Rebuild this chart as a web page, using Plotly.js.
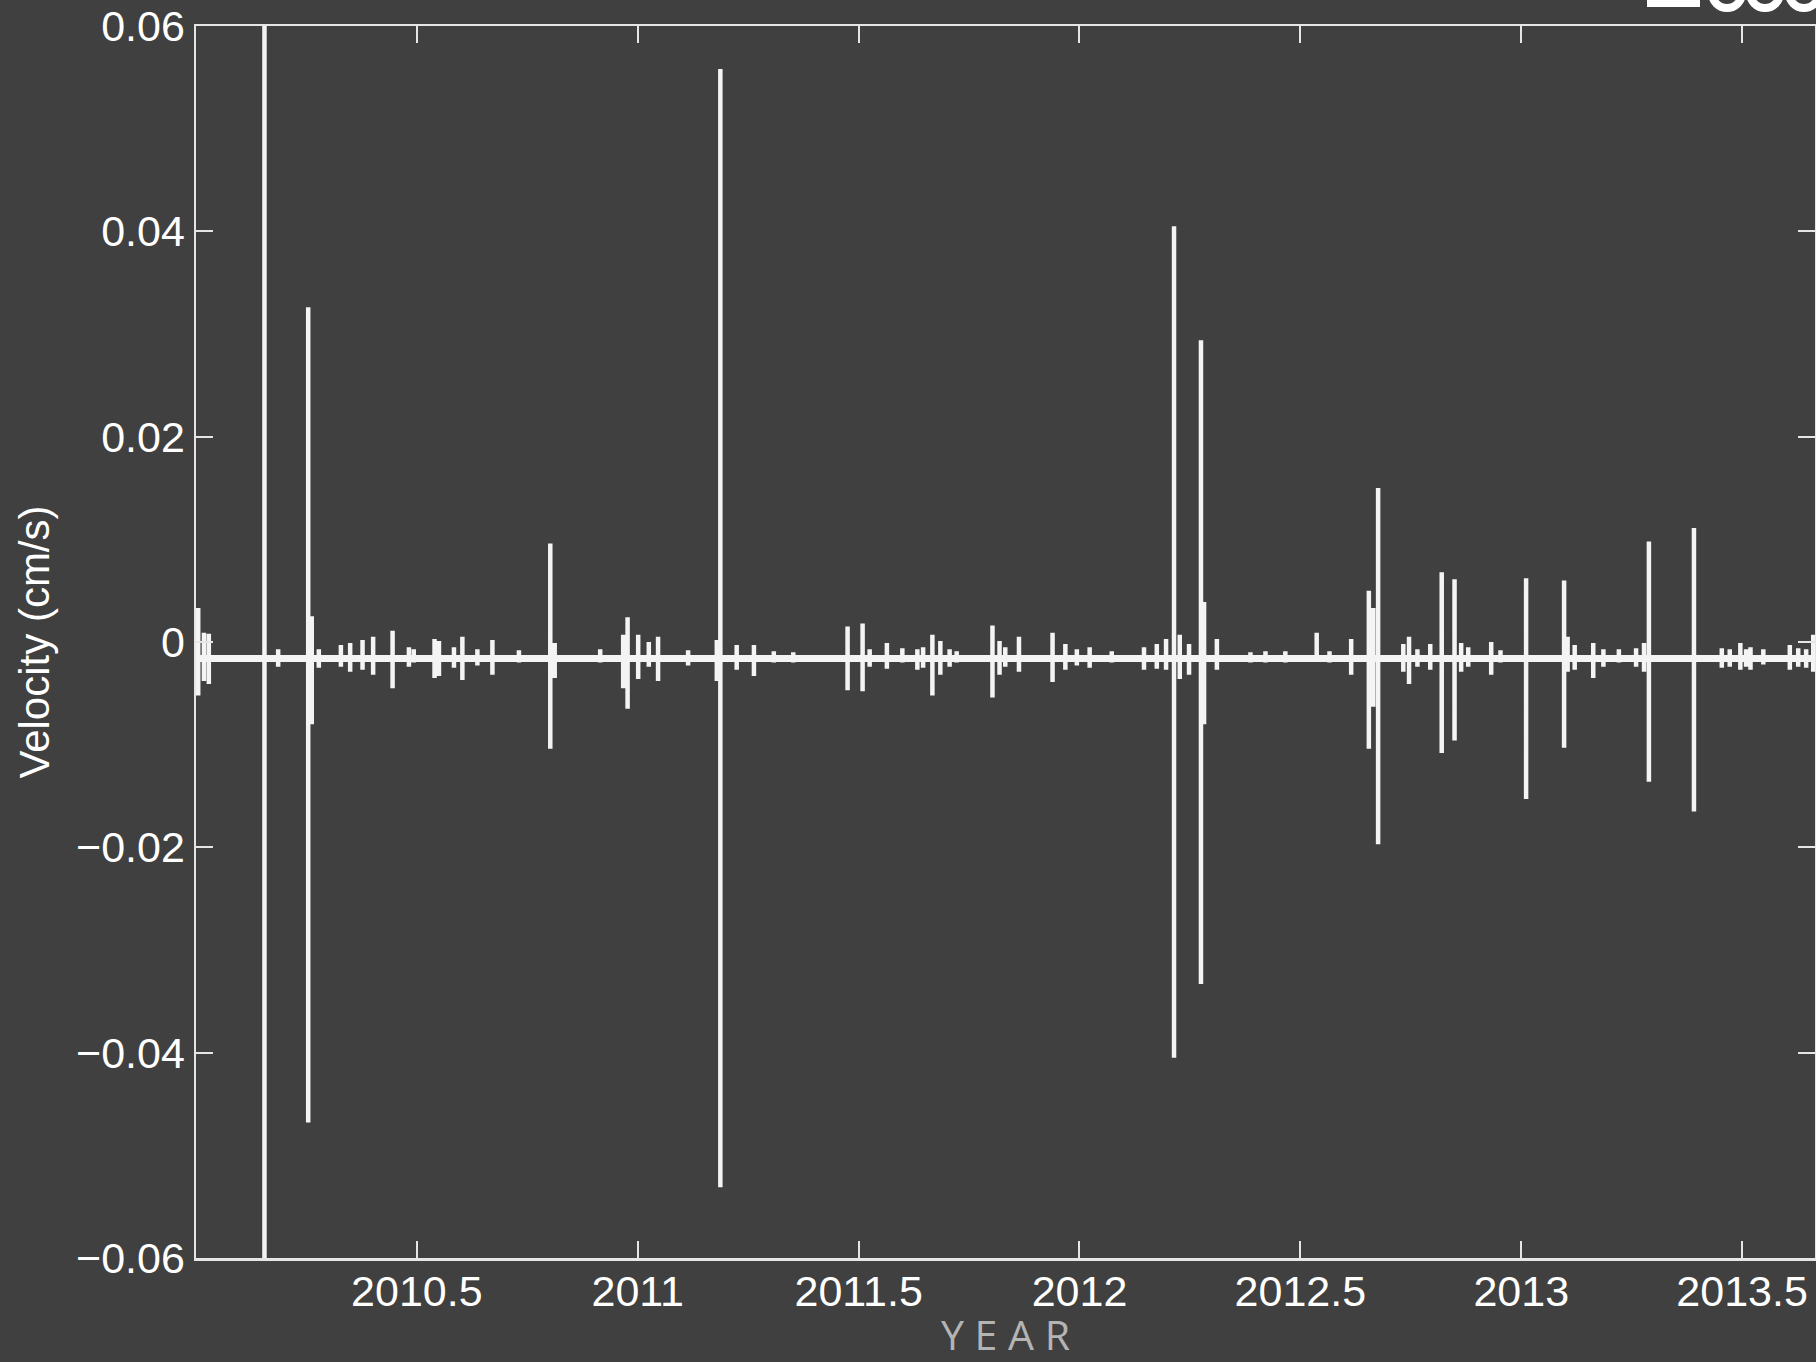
<!DOCTYPE html>
<html>
<head>
<meta charset="utf-8">
<script src="https://cdn.plot.ly/plotly-3.0.1.min.js"></script>
<style>
  html, body { margin: 0; padding: 0; background: #404040; }
  #chart { width: 1816px; height: 1362px; }
</style>
</head>
<body>
<div id="chart"></div>
<script>
// ---- data ----
const baselineVelocity = -0.0016;   // cm/s, resting level of the trace
const xStart = 2010.0;
const xEnd = 2013.665;

const spikeYear = [
  2010.005, 2010.018, 2010.029, 2010.155, 2010.186, 2010.254, 2010.262, 2010.278,
  2010.328, 2010.349, 2010.377, 2010.401, 2010.445, 2010.482, 2010.493, 2010.540,
  2010.550, 2010.584, 2010.603, 2010.637, 2010.671, 2010.731, 2010.802, 2010.812,
  2010.915, 2010.967, 2010.977, 2011.001, 2011.025, 2011.046, 2011.114, 2011.179,
  2011.187, 2011.224, 2011.263, 2011.308, 2011.352, 2011.475, 2011.509, 2011.525,
  2011.564, 2011.599, 2011.633, 2011.646, 2011.667, 2011.685, 2011.706, 2011.722,
  2011.803, 2011.819, 2011.832, 2011.863, 2011.939, 2011.968, 2011.994, 2012.023,
  2012.073, 2012.146, 2012.175, 2012.196, 2012.214, 2012.227, 2012.248, 2012.275,
  2012.282, 2012.311, 2012.387, 2012.421, 2012.466, 2012.537, 2012.566, 2012.615,
  2012.655, 2012.665, 2012.676, 2012.733, 2012.746, 2012.765, 2012.794, 2012.820,
  2012.849, 2012.864, 2012.880, 2012.932, 2012.953, 2013.011, 2013.097, 2013.105,
  2013.121, 2013.163, 2013.186, 2013.221, 2013.260, 2013.278, 2013.289, 2013.391,
  2013.454, 2013.472, 2013.496, 2013.509, 2013.519, 2013.548, 2013.608, 2013.627,
  2013.645, 2013.661
];
const spikeHigh = [
  0.0033, 0.0009, 0.0008, 0.0750, -0.0007, 0.0326, 0.0025, -0.0007,
  -0.0003, -0.0001, 0.0002, 0.0005, 0.0011, -0.0005, -0.0007, 0.0003,
  0.0001, -0.0005, 0.0005, -0.0007, 0.0002, -0.0008, 0.0096, -0.0001,
  -0.0007, 0.0007, 0.0024, 0.0007, 0.0000, 0.0005, -0.0008, 0.0002,
  0.0558, -0.0003, -0.0003, -0.0009, -0.0010, 0.0015, 0.0018, -0.0007,
  -0.0001, -0.0006, -0.0007, -0.0005, 0.0007, 0.0001, -0.0007, -0.0009,
  0.0016, 0.0001, -0.0005, 0.0005, 0.0009, -0.0002, -0.0007, -0.0005,
  -0.0009, -0.0005, -0.0002, 0.0003, 0.0405, 0.0007, -0.0002, 0.0294,
  0.0039, 0.0003, -0.0010, -0.0009, -0.0009, 0.0009, -0.0009, 0.0003,
  0.0050, 0.0033, 0.0150, -0.0002, 0.0005, -0.0007, -0.0002, 0.0068,
  0.0061, -0.0001, -0.0005, 0.0000, -0.0008, 0.0062, 0.0060, 0.0005,
  -0.0003, -0.0001, -0.0007, -0.0007, -0.0006, -0.0001, 0.0098, 0.0111,
  -0.0006, -0.0007, -0.0001, -0.0007, -0.0005, -0.0007, -0.0003, -0.0006,
  -0.0007, 0.0007
];
const spikeLow = [
  -0.0052, -0.0038, -0.0041, -0.0750, -0.0024, -0.0468, -0.0080, -0.0025,
  -0.0024, -0.0029, -0.0027, -0.0032, -0.0045, -0.0024, -0.0020, -0.0035,
  -0.0033, -0.0025, -0.0037, -0.0023, -0.0032, -0.0020, -0.0104, -0.0035,
  -0.0020, -0.0045, -0.0065, -0.0036, -0.0024, -0.0038, -0.0023, -0.0038,
  -0.0531, -0.0027, -0.0033, -0.0020, -0.0020, -0.0047, -0.0048, -0.0024,
  -0.0026, -0.0020, -0.0027, -0.0025, -0.0052, -0.0032, -0.0024, -0.0020,
  -0.0054, -0.0032, -0.0024, -0.0029, -0.0039, -0.0027, -0.0023, -0.0025,
  -0.0020, -0.0027, -0.0026, -0.0027, -0.0405, -0.0036, -0.0032, -0.0333,
  -0.0080, -0.0027, -0.0020, -0.0020, -0.0020, -0.0016, -0.0020, -0.0032,
  -0.0104, -0.0063, -0.0197, -0.0029, -0.0041, -0.0024, -0.0027, -0.0108,
  -0.0096, -0.0029, -0.0024, -0.0032, -0.0020, -0.0153, -0.0103, -0.0029,
  -0.0027, -0.0035, -0.0024, -0.0020, -0.0024, -0.0029, -0.0136, -0.0165,
  -0.0025, -0.0024, -0.0027, -0.0024, -0.0027, -0.0022, -0.0027, -0.0024,
  -0.0025, -0.0029
];

const xTickVals = [2010.5, 2011, 2011.5, 2012, 2012.5, 2013, 2013.5];
const xTickText = ['2010.5', '2011', '2011.5', '2012', '2012.5', '2013', '2013.5'];
const yTickVals = [-0.06, -0.04, -0.02, 0, 0.02, 0.04, 0.06];
const yTickText = ['\u22120.06', '\u22120.04', '\u22120.02', '0', '0.02', '0.04', '0.06'];

// ---- build the trace path: baseline -> high -> low -> baseline at each spike ----
const traceX = [xStart];
const traceY = [baselineVelocity];
for (let i = 0; i < spikeYear.length; i++) {
  const t = spikeYear[i];
  traceX.push(t, t, t, t);
  traceY.push(baselineVelocity, spikeHigh[i], spikeLow[i], baselineVelocity);
}
traceX.push(xEnd + 0.05);
traceY.push(baselineVelocity);

const FG = '#f4f4f4';
const AX = '#e6e6e6';
const BG = '#404040';

// pixel helpers for the decorative cropped logo at the top-right
const PL = 196, PR = 1815, PT = 26, PB = 1258;
const px = p => (p - PL) / (PR - PL);
const py = p => (PB - p) / (PB - PT);

const data = [
  {
    type: 'scatter', mode: 'lines',
    x: [xStart, xEnd + 0.05], y: [baselineVelocity, baselineVelocity],
    line: { color: FG, width: 7 }, hoverinfo: 'skip', showlegend: false
  },
  {
    type: 'scatter', mode: 'lines',
    x: traceX, y: traceY,
    line: { color: FG, width: 4.5 }, showlegend: false,
    name: 'Velocity'
  }
];

const layout = {
  width: 1816, height: 1362,
  margin: { l: PL, r: 1816 - PR, t: PT, b: 1362 - PB },
  paper_bgcolor: BG, plot_bgcolor: BG,
  font: { family: 'Liberation Sans, Arial, sans-serif', color: '#ffffff', size: 43 },
  showlegend: false,
  xaxis: {
    range: [xStart, xEnd],
    tickvals: xTickVals, ticktext: xTickText,
    ticks: 'inside', ticklen: 17, tickwidth: 2, tickcolor: AX,
    showline: true, linecolor: AX, linewidth: 2.5, mirror: 'ticks',
    showgrid: false, zeroline: false,
    tickfont: { size: 43, color: '#ffffff' },
    ticklabelstandoff: -6,
    title: {
      text: 'Y E A R',
      font: { family: 'Open Sans, Noto Sans, sans-serif', size: 41, color: '#b4b4b4' },
      standoff: 12
    }
  },
  yaxis: {
    range: [-0.06, 0.06],
    tickvals: yTickVals, ticktext: yTickText,
    ticks: 'inside', ticklen: 17, tickwidth: 2, tickcolor: AX,
    showline: true, linecolor: AX, linewidth: 2.5, mirror: 'ticks',
    showgrid: false, zeroline: false,
    tickfont: { size: 43, color: '#ffffff' },
    ticklabelstandoff: 0,
    title: {
      text: 'Velocity (cm/s)',
      font: { family: 'Liberation Sans, Arial, sans-serif', size: 42, color: '#ffffff' },
      standoff: 14
    }
  },
  shapes: [
    { type: 'rect', xref: 'paper', yref: 'paper', x0: px(1647), x1: px(1700), y0: py(7), y1: py(-20),
      fillcolor: '#ffffff', line: { width: 0 }, layer: 'above' },
    { type: 'circle', xref: 'paper', yref: 'paper', x0: px(1712), x1: px(1742), y0: py(8), y1: py(-22),
      fillcolor: 'rgba(0,0,0,0)', line: { color: '#ffffff', width: 8 }, layer: 'above' },
    { type: 'circle', xref: 'paper', yref: 'paper', x0: px(1750), x1: px(1780), y0: py(8), y1: py(-22),
      fillcolor: 'rgba(0,0,0,0)', line: { color: '#ffffff', width: 8 }, layer: 'above' },
    { type: 'circle', xref: 'paper', yref: 'paper', x0: px(1789), x1: px(1819), y0: py(8), y1: py(-22),
      fillcolor: 'rgba(0,0,0,0)', line: { color: '#ffffff', width: 8 }, layer: 'above' }
  ]
};

Plotly.newPlot('chart', data, layout, { displayModeBar: false, staticPlot: true });
</script>
</body>
</html>
